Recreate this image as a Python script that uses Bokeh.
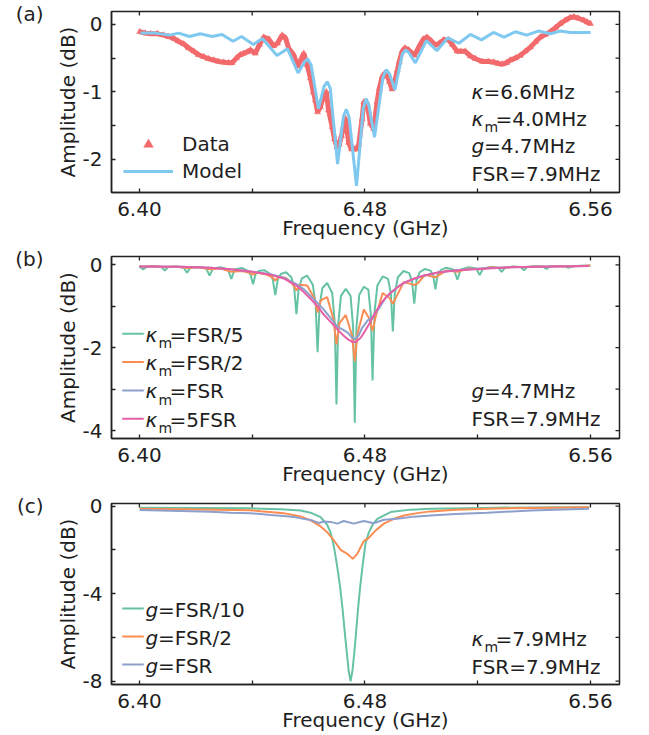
import math
from bokeh.plotting import figure
from bokeh.layouts import column
from bokeh.models import (Label, Legend, LegendItem, FixedTicker, Range1d, Arrow,
                          PrintfTickFormatter, Title)
from bokeh.embed import file_html
from bokeh.resources import INLINE

# ---------------- data ----------------
# (a) measured data
freq_a_data = [
    6.4001, 6.4021, 6.4039, 6.4063, 6.4086, 6.4103, 6.4122, 6.4138, 6.4157, 6.4174,
    6.4193, 6.4209, 6.4228, 6.4245, 6.4264, 6.4280, 6.4299, 6.4316, 6.4329, 6.4344,
    6.4358, 6.4370, 6.4382, 6.4394, 6.4411, 6.4426, 6.4441, 6.4459, 6.4476, 6.4490,
    6.4506, 6.4518, 6.4530, 6.4547, 6.4562, 6.4573, 6.4583, 6.4595, 6.4607, 6.4617,
    6.4624, 6.4632, 6.4642, 6.4654, 6.4663, 6.4671, 6.4684, 6.4692, 6.4701, 6.4709,
    6.4717, 6.4725, 6.4732, 6.4742, 6.4752, 6.4760, 6.4770, 6.4778, 6.4790, 6.4796,
    6.4808, 6.4819, 6.4831, 6.4843, 6.4851, 6.4861, 6.4869, 6.4879, 6.4887, 6.4896,
    6.4905, 6.4915, 6.4922, 6.4932, 6.4942, 6.4955, 6.4967, 6.4975, 6.4986, 6.4997,
    6.5007, 6.5020, 6.5036, 6.5050, 6.5064, 6.5079, 6.5097, 6.5110, 6.5127, 6.5139,
    6.5156, 6.5174, 6.5192, 6.5216, 6.5238, 6.5257, 6.5272, 6.5287, 6.5302, 6.5316,
    6.5334, 6.5351, 6.5369, 6.5387, 6.5405, 6.5422, 6.5440, 6.5458, 6.5476, 6.5493,
    6.5511, 6.5529, 6.5541, 6.5557, 6.5576, 6.5589, 6.5600]
amp_a_data = [
    -0.11, -0.13, -0.14, -0.14, -0.16, -0.18, -0.21, -0.25, -0.29, -0.35,
    -0.40, -0.45, -0.48, -0.51, -0.53, -0.55, -0.56, -0.57, -0.57, -0.50,
    -0.45, -0.43, -0.41, -0.38, -0.43, -0.30, -0.19, -0.22, -0.32, -0.28,
    -0.16, -0.20, -0.36, -0.45, -0.62, -0.52, -0.43, -0.60, -0.80, -1.00,
    -1.12, -1.30, -1.22, -1.05, -1.00, -1.27, -1.52, -1.70, -1.82, -1.78,
    -1.65, -1.50, -1.40, -1.75, -1.85, -1.84, -1.85, -1.78, -1.40, -1.15,
    -1.17, -1.47, -1.55, -1.15, -0.95, -0.78, -0.73, -0.76, -0.85, -0.96,
    -0.85, -0.68, -0.55, -0.40, -0.35, -0.38, -0.43, -0.46, -0.38, -0.29,
    -0.22, -0.19, -0.25, -0.31, -0.28, -0.23, -0.23, -0.30, -0.40, -0.40,
    -0.40, -0.47, -0.51, -0.55, -0.55, -0.56, -0.58, -0.59, -0.57, -0.53,
    -0.50, -0.46, -0.40, -0.34, -0.26, -0.19, -0.15, -0.11, -0.05, 0.01,
    0.06, 0.10, 0.11, 0.09, 0.06, 0.03, 0.01]

# (a) model
freq_a_model = [
    6.4004, 6.4057, 6.4107, 6.4139, 6.4178, 6.4216, 6.4258, 6.4293, 6.4332, 6.4362,
    6.4404, 6.4436, 6.4488, 6.4525, 6.4563, 6.4585, 6.4597, 6.4609, 6.4635, 6.4655,
    6.4666, 6.4677, 6.4703, 6.4724, 6.4734, 6.4744, 6.4770, 6.4794, 6.4804, 6.4814,
    6.4834, 6.4864, 6.4876, 6.4888, 6.4906, 6.4932, 6.4944, 6.4956, 6.4979, 6.5018,
    6.5055, 6.5094, 6.5133, 6.5174, 6.5213, 6.5256, 6.5293, 6.5334, 6.5374, 6.5415,
    6.5458, 6.5493, 6.5529, 6.5600]
amp_a_model = [
    -0.13, -0.13, -0.16, -0.13, -0.18, -0.14, -0.18, -0.15, -0.25, -0.18,
    -0.30, -0.21, -0.46, -0.36, -0.72, -0.56, -0.51, -0.60, -1.25, -0.92,
    -0.85, -0.95, -2.07, -1.36, -1.26, -1.38, -2.39, -1.25, -1.10, -1.20,
    -1.67, -0.78, -0.67, -0.74, -0.97, -0.45, -0.38, -0.42, -0.57, -0.24,
    -0.39, -0.20, -0.28, -0.15, -0.23, -0.12, -0.19, -0.11, -0.16, -0.10,
    -0.14, -0.10, -0.12, -0.12]

# (b) kappa_m = FSR/5
freq_b1 = [
    6.4000, 6.4013, 6.4025, 6.4052, 6.4078, 6.4090, 6.4102, 6.4130, 6.4157, 6.4169,
    6.4181, 6.4209, 6.4237, 6.4249, 6.4261, 6.4288, 6.4314, 6.4326, 6.4338, 6.4365,
    6.4383, 6.4394, 6.4403, 6.4412, 6.4423, 6.4443, 6.4462, 6.4473, 6.4482, 6.4491,
    6.4502, 6.4520, 6.4539, 6.4549, 6.4557, 6.4565, 6.4576, 6.4595, 6.4615, 6.4625,
    6.4632, 6.4639, 6.4649, 6.4666, 6.4684, 6.4693, 6.4699, 6.4705, 6.4715, 6.4732,
    6.4749, 6.4758, 6.4764, 6.4770, 6.4780, 6.4796, 6.4812, 6.4821, 6.4827, 6.4834,
    6.4844, 6.4863, 6.4882, 6.4892, 6.4899, 6.4906, 6.4917, 6.4937, 6.4957, 6.4967,
    6.4975, 6.4983, 6.4994, 6.5013, 6.5032, 6.5042, 6.5050, 6.5058, 6.5069, 6.5089,
    6.5116, 6.5128, 6.5140, 6.5168, 6.5195, 6.5207, 6.5219, 6.5246, 6.5273, 6.5285,
    6.5297, 6.5325, 6.5352, 6.5364, 6.5376, 6.5404, 6.5432, 6.5444, 6.5456, 6.5483,
    6.5510, 6.5522, 6.5534, 6.5561, 6.5600]
amp_b1 = [
    -0.04, -0.11, -0.05, -0.03, -0.055, -0.14, -0.055, -0.04, -0.07, -0.19,
    -0.07, -0.05, -0.09, -0.26, -0.09, -0.06, -0.11, -0.34, -0.11, -0.08,
    -0.14, -0.23, -0.47, -0.23, -0.15, -0.13, -0.21, -0.35, -0.73, -0.35,
    -0.22, -0.18, -0.30, -0.55, -1.19, -0.57, -0.33, -0.26, -0.48, -0.95,
    -2.11, -1.00, -0.56, -0.44, -0.68, -1.40, -3.37, -1.45, -0.75, -0.58,
    -0.75, -1.50, -3.81, -1.50, -0.72, -0.53, -0.60, -1.20, -2.79, -1.15,
    -0.50, -0.28, -0.34, -0.70, -1.61, -0.68, -0.30, -0.15, -0.20, -0.40,
    -0.94, -0.38, -0.18, -0.10, -0.14, -0.25, -0.59, -0.24, -0.13, -0.07,
    -0.12, -0.36, -0.11, -0.06, -0.09, -0.25, -0.09, -0.05, -0.07, -0.17,
    -0.07, -0.04, -0.055, -0.13, -0.055, -0.03, -0.045, -0.10, -0.045, -0.03,
    -0.04, -0.07, -0.04, -0.025, -0.02]

# (b) kappa_m = FSR/2
freq_b2 = [
    6.4000, 6.4013, 6.4052, 6.4090, 6.4130, 6.4169, 6.4209, 6.4249, 6.4288, 6.4326,
    6.4365, 6.4390, 6.4403, 6.4416, 6.4443, 6.4469, 6.4482, 6.4495, 6.4520, 6.4544,
    6.4557, 6.4570, 6.4595, 6.4620, 6.4632, 6.4644, 6.4666, 6.4688, 6.4699, 6.4710,
    6.4732, 6.4754, 6.4764, 6.4774, 6.4796, 6.4816, 6.4827, 6.4838, 6.4863, 6.4887,
    6.4899, 6.4911, 6.4937, 6.4963, 6.4975, 6.4987, 6.5013, 6.5050, 6.5089, 6.5128,
    6.5168, 6.5207, 6.5246, 6.5285, 6.5325, 6.5364, 6.5404, 6.5444, 6.5483, 6.5522,
    6.5600]
amp_b2 = [
    -0.03, -0.05, -0.03, -0.06, -0.04, -0.08, -0.06, -0.11, -0.09, -0.17,
    -0.15, -0.19, -0.24, -0.19, -0.22, -0.29, -0.38, -0.29, -0.32, -0.47,
    -0.62, -0.48, -0.50, -0.80, -1.15, -0.85, -0.78, -1.30, -1.92, -1.40,
    -1.21, -1.70, -2.33, -1.65, -1.08, -1.30, -1.60, -1.25, -0.68, -0.80,
    -0.94, -0.78, -0.42, -0.46, -0.49, -0.45, -0.24, -0.30, -0.14, -0.17,
    -0.09, -0.11, -0.06, -0.08, -0.05, -0.06, -0.04, -0.05, -0.03, -0.04,
    -0.02]

# (b) kappa_m = FSR
freq_b3 = [
    6.4000, 6.4146, 6.4252, 6.4323, 6.4394, 6.4465, 6.4512, 6.4560, 6.4585, 6.4607,
    6.4632, 6.4654, 6.4680, 6.4703, 6.4720, 6.4740, 6.4752, 6.4764, 6.4778, 6.4790,
    6.4810, 6.4827, 6.4850, 6.4873, 6.4900, 6.4925, 6.4944, 6.5004, 6.5063, 6.5122,
    6.5205, 6.5317, 6.5459, 6.5595]
amp_b3 = [
    -0.04, -0.05, -0.07, -0.11, -0.16, -0.23, -0.31, -0.48, -0.60, -0.75,
    -0.92, -1.08, -1.30, -1.50, -1.56, -1.64, -1.74, -1.80, -1.70, -1.52,
    -1.34, -1.26, -1.05, -0.80, -0.62, -0.50, -0.42, -0.27, -0.18, -0.13,
    -0.09, -0.06, -0.04, -0.03]

# (b) kappa_m = 5FSR
freq_b4 = [
    6.4000, 6.4146, 6.4252, 6.4323, 6.4394, 6.4465, 6.4512, 6.4560, 6.4582, 6.4607,
    6.4632, 6.4654, 6.4673, 6.4690, 6.4708, 6.4725, 6.4740, 6.4755, 6.4767, 6.4785,
    6.4802, 6.4820, 6.4838, 6.4855, 6.4873, 6.4890, 6.4909, 6.4925, 6.4944, 6.4975,
    6.5004, 6.5063, 6.5122, 6.5205, 6.5317, 6.5459, 6.5595]
amp_b4 = [
    -0.04, -0.05, -0.07, -0.11, -0.16, -0.24, -0.33, -0.52, -0.65, -0.82,
    -1.00, -1.20, -1.34, -1.46, -1.60, -1.71, -1.80, -1.86, -1.86, -1.76,
    -1.58, -1.37, -1.14, -0.95, -0.80, -0.68, -0.58, -0.49, -0.42, -0.33,
    -0.27, -0.18, -0.14, -0.10, -0.06, -0.04, -0.03]

# (c) g = FSR/10
freq_c1 = [
    6.4001, 6.4217, 6.4394, 6.4501, 6.4572, 6.4607, 6.4643, 6.4666, 6.4678, 6.4690,
    6.4702, 6.4712, 6.4720, 6.4728, 6.4735, 6.4742, 6.4749, 6.4756, 6.4763, 6.4769,
    6.4775, 6.4783, 6.4791, 6.4802, 6.4814, 6.4827, 6.4844, 6.4891, 6.4962, 6.5033,
    6.5211, 6.5388, 6.5596]
amp_c1 = [
    -0.07, -0.08, -0.10, -0.14, -0.20, -0.30, -0.50, -0.85, -1.20, -1.85,
    -2.79, -3.70, -4.62, -5.70, -6.60, -7.50, -8.00, -7.50, -6.60, -5.70,
    -4.77, -3.70, -2.79, -1.70, -1.20, -0.85, -0.58, -0.27, -0.16, -0.12,
    -0.08, -0.06, -0.05]

# (c) g = FSR/2
freq_c2 = [
    6.4001, 6.4217, 6.4394, 6.4430, 6.4512, 6.4572, 6.4607, 6.4643, 6.4666, 6.4690,
    6.4714, 6.4737, 6.4757, 6.4773, 6.4785, 6.4796, 6.4814, 6.4838, 6.4867, 6.4903,
    6.4938, 6.4986, 6.5033, 6.5122, 6.5234, 6.5388, 6.5595]
amp_c2 = [
    -0.12, -0.15, -0.19, -0.23, -0.32, -0.47, -0.65, -0.93, -1.19, -1.57,
    -2.00, -2.18, -2.41, -2.18, -1.87, -1.60, -1.45, -1.11, -0.80, -0.58,
    -0.43, -0.32, -0.24, -0.17, -0.12, -0.08, -0.05]

# (c) g = FSR
freq_c3 = [
    6.4001, 6.4146, 6.4252, 6.4323, 6.4394, 6.4430, 6.4465, 6.4512, 6.4550, 6.4572,
    6.4607, 6.4636, 6.4655, 6.4678, 6.4702, 6.4725, 6.4760, 6.4796, 6.4831, 6.4867,
    6.4914, 6.4973, 6.5033, 6.5122, 6.5234, 6.5388, 6.5595]
amp_c3 = [
    -0.18, -0.22, -0.26, -0.30, -0.33, -0.36, -0.40, -0.45, -0.50, -0.56,
    -0.63, -0.77, -0.70, -0.72, -0.80, -0.68, -0.80, -0.68, -0.78, -0.62,
    -0.58, -0.48, -0.43, -0.36, -0.30, -0.20, -0.12]

x_major = [6.40, 6.48, 6.56]
x_minor = [6.44, 6.52]

# ---------------- styling ----------------
FONT = "DejaVu Sans"
FS = "20px"
TXT = "#1e1e1e"
AX = "#222222"
RED = "#F26A6C"
BLUE = "#7FC8EF"
GREEN = "#66C2A5"
ORANGE = "#FC8D52"
PURPLE = "#8DA0CB"
PINK = "#E65FA6"

FRAME_W = 508
X0, X1 = 6.3901, 6.5703


def style_axis(ax):
    ax.axis_line_color = AX
    ax.axis_line_width = 1.5
    ax.major_tick_in = 4
    ax.major_tick_out = 0
    ax.minor_tick_in = 4
    ax.minor_tick_out = 0
    ax.major_tick_line_color = AX
    ax.minor_tick_line_color = AX
    ax.major_tick_line_width = 1.3
    ax.minor_tick_line_width = 1.3
    ax.major_label_text_font = FONT
    ax.major_label_text_font_size = FS
    ax.major_label_text_color = TXT
    ax.axis_label_text_font = FONT
    ax.axis_label_text_font_size = FS
    ax.axis_label_text_font_style = "normal"
    ax.axis_label_text_color = TXT


def lab(p, x, y, text, size=20, style="normal"):
    # y is the wanted baseline height above the frame bottom (px)
    p.add_layout(Label(x=x, y=y + 0.35 * size, x_units="screen", y_units="screen",
                       text=text, text_font=FONT, text_font_size=f"{size}px",
                       text_font_style=style, text_align="left",
                       text_baseline="alphabetic", text_color=TXT))


def make_fig(y0, y1, ymaj, ymin, top, bottom, fh, tag):
    p = figure(frame_width=FRAME_W, frame_height=fh,
               x_range=Range1d(X0, X1), y_range=Range1d(y0, y1),
               output_backend="svg", toolbar_location=None,
               min_border_left=111, min_border_right=20,
               min_border_top=top, min_border_bottom=bottom)
    p.xgrid.visible = False
    p.ygrid.visible = False
    p.outline_line_color = AX
    p.outline_line_width = 1.5
    p.outline_line_alpha = 1.0
    p.background_fill_color = "white"
    p.border_fill_color = "white"
    p.xaxis.ticker = FixedTicker(ticks=x_major, minor_ticks=x_minor)
    p.yaxis.ticker = FixedTicker(ticks=ymaj, minor_ticks=ymin)
    p.xaxis.formatter = PrintfTickFormatter(format="%.2f")
    p.yaxis.formatter = PrintfTickFormatter(format="%d")
    p.xaxis.axis_label = "Frequency (GHz)"
    p.yaxis.axis_label = "Amplitude (dB)"
    style_axis(p.xaxis[0])
    style_axis(p.yaxis[0])
    p.xaxis.major_label_standoff = 9
    p.xaxis.axis_label_standoff = -3
    p.yaxis.major_label_standoff = 9
    p.yaxis.axis_label_standoff = 0
    # mirrored inward ticks on the top and right edges of the frame
    xt = x_major + x_minor
    yt = ymaj + ymin
    p.ray(x=xt, y=[y1] * len(xt), length=4, length_units="screen",
          angle=-math.pi / 2, line_color=AX, line_width=1.3)
    p.ray(x=[X1] * len(yt), y=yt, length=4, length_units="screen",
          angle=math.pi, line_color=AX, line_width=1.3)
    # panel tag, right edge placed 68 px left of the frame
    p.add_layout(Title(text=tag, align="right", offset=FRAME_W + 68, standoff=-29,
                       vertical_align="bottom", text_baseline="bottom",
                       text_font=FONT, text_font_size=FS, text_font_style="normal",
                       text_color=TXT), "above")
    return p


def kappa_m(p, x, y, rest):
    lab(p, x, y, "κ", style="italic")
    lab(p, x + 13, y - 6, "m", size=14)
    lab(p, x + 24, y, rest)


def g_eq(p, x, y, rest):
    lab(p, x, y, "g", style="italic")
    lab(p, x + 12.5, y, rest)


def seg(p, x0, x1, y, color):
    p.add_layout(Arrow(end=None, x_start=x0, y_start=y, x_end=x1, y_end=y,
                       start_units="screen", end_units="screen",
                       line_color=color, line_width=2))


# ---------------- panel (a) ----------------
pa = make_fig(-2.49, 0.19, [-2, -1, 0], [-2.5, -1.5, -0.5], 11, 50, 181, "(a)")
pa.line(freq_a_data, amp_a_data, line_color=RED, line_width=5)
r_data = pa.scatter(freq_a_data, amp_a_data, marker="triangle", size=6,
                    fill_color=RED, line_color=RED, line_width=0.5)
r_model = pa.line(freq_a_model, amp_a_model, line_color=BLUE, line_width=3)
leg = Legend(items=[LegendItem(label="Data", renderers=[r_data]),
                    LegendItem(label="Model", renderers=[r_model])],
             location=(12, 9), margin=0, padding=0, spacing=3,
             glyph_width=50, glyph_height=24, label_height=24, label_standoff=9,
             border_line_color=None, background_fill_alpha=0,
             label_text_font=FONT, label_text_font_size=FS, label_text_color=TXT)
pa.add_layout(leg)
lab(pa, 360, 94, "κ", style="italic")
lab(pa, 372, 94, "=6.6MHz")
kappa_m(pa, 360, 67, "=4.0MHz")
g_eq(pa, 360, 40, "=4.7MHz")
lab(pa, 360, 12, "FSR=7.9MHz")

# ---------------- panel (b) ----------------
pb = make_fig(-4.19, 0.2, [-4, -2, 0], [-3, -1], 14, 50, 182, "(b)")
pb.line(freq_b1, amp_b1, line_color=GREEN, line_width=2)
pb.line(freq_b2, amp_b2, line_color=ORANGE, line_width=2)
pb.line(freq_b3, amp_b3, line_color=PURPLE, line_width=2)
pb.line(freq_b4, amp_b4, line_color=PINK, line_width=2)
legend_b = [("=FSR/5", GREEN), ("=FSR/2", ORANGE), ("=FSR", PURPLE), ("=5FSR", PINK)]
for i, (txt, col) in enumerate(legend_b):
    yl = 104.7 - 28.3 * i
    seg(pb, 10.7, 32.3, yl, col)
    kappa_m(pb, 34, yl - 8, txt)
g_eq(pb, 360, 41, "=4.7MHz")
lab(pb, 360, 13, "FSR=7.9MHz")

# ---------------- panel (c) ----------------
pc = make_fig(-8.15, 0.12, [-8, -4, 0], [-6, -2], 15, 43, 181, "(c)")
pc.line(freq_c1, amp_c1, line_color=GREEN, line_width=2)
pc.line(freq_c2, amp_c2, line_color=ORANGE, line_width=2)
pc.line(freq_c3, amp_c3, line_color=PURPLE, line_width=2)
legend_c = [("=FSR/10", GREEN), ("=FSR/2", ORANGE), ("=FSR", PURPLE)]
for i, (txt, col) in enumerate(legend_c):
    yl = 76 - 28 * i
    seg(pc, 10.7, 32.3, yl, col)
    g_eq(pc, 34, yl - 8, txt)
kappa_m(pc, 360, 39, "=7.9MHz")
lab(pc, 360, 11, "FSR=7.9MHz")

layout = column(pa, pb, pc, spacing=0)
open("out.html", "w").write(file_html(layout, INLINE))
